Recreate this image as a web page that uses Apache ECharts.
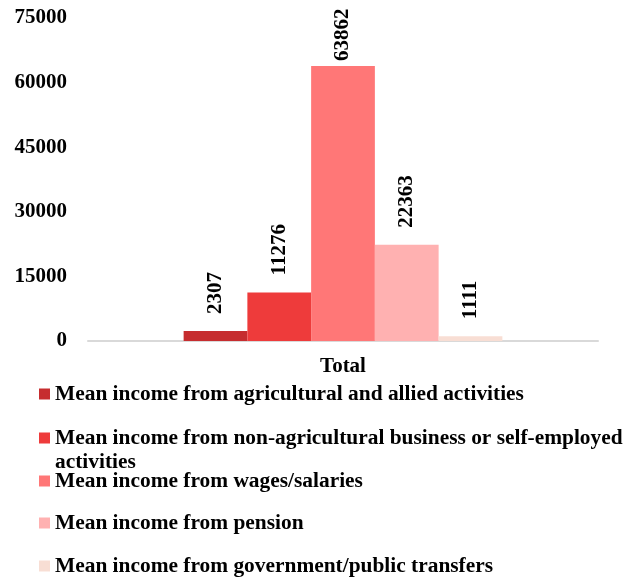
<!DOCTYPE html>
<html>
<head>
<meta charset="utf-8">
<script src="https://cdn.jsdelivr.net/npm/echarts@6/dist/echarts.min.js"></script>
<style>
  html, body { margin: 0; padding: 0; background: #fff; }
  #echarts { width: 638px; height: 578px; }
</style>
</head>
<body>
<div id="echarts"></div>
<script>
// Chart data
const categories = ['Total'];
const seriesNames = [
    'Mean income from agricultural and allied activities',
    'Mean income from non-agricultural business or self-employed\nactivities',
    'Mean income from wages/salaries',
    'Mean income from pension',
    'Mean income from government/public transfers'
];
const seriesValues = [2307, 11276, 63862, 22363, 1111];
const yTicks = [0, 15000, 30000, 45000, 60000, 75000];

const colors = ['#C62D2F', '#EE3B3B', '#FF7777', '#FFB1B1', '#F8DED4'];
const legendTops = [382, 426, 469, 511, 554];
const font = 'Liberation Serif';
const fontSize = 21;

const chartInstance = echarts.init(document.getElementById('echarts'));

// square at top of a tall box so the icon sits on the first text line
const topSquare = 'path://M0,0L11,0L11,11L0,11Z M0,35L0.01,35Z';

const option = {
    animation: false,
    grid: { left: 88, right: 40, top: 18, bottom: 237 },
    xAxis: {
        type: 'category',
        data: categories,
        axisLine: { lineStyle: { color: '#D9D9D9', width: 2 } },
        axisTick: { show: false },
        axisLabel: {
            margin: 15,
            fontFamily: font, fontSize: fontSize, fontWeight: 'bold', color: '#000'
        }
    },
    yAxis: {
        type: 'value',
        min: yTicks[0],
        max: yTicks[yTicks.length - 1],
        interval: yTicks[1] - yTicks[0],
        splitLine: { show: false },
        axisLine: { show: false },
        axisTick: { show: false },
        axisLabel: {
            margin: 21,
            formatter: v => String(v),
            fontFamily: font, fontSize: fontSize, fontWeight: 'bold', color: '#000'
        }
    },
    legend: seriesNames.map((name, i) => ({
        data: [name],
        orient: 'vertical',
        left: 39,
        top: legendTops[i],
        padding: 0,
        itemWidth: 11,
        itemHeight: i === 1 ? 35 : 11,
        icon: i === 1 ? topSquare : 'rect',
        selectedMode: false,
        textStyle: {
            fontFamily: font, fontSize: 21.4, fontWeight: 'bold', color: '#000',
            lineHeight: 24
        }
    })),
    series: seriesNames.map((name, i) => ({
        name: name,
        type: 'bar',
        barGap: 0,
        barCategoryGap: '37.5%',
        itemStyle: { color: colors[i] },
        label: {
            show: true,
            position: 'top',
            rotate: 90,
            align: 'left',
            verticalAlign: 'middle',
            distance: i === 2 ? 5 : 17,
            fontFamily: font, fontSize: fontSize, fontWeight: 'bold', color: '#000'
        },
        data: [seriesValues[i]]
    }))
};

chartInstance.setOption(option);
</script>
</body>
</html>
